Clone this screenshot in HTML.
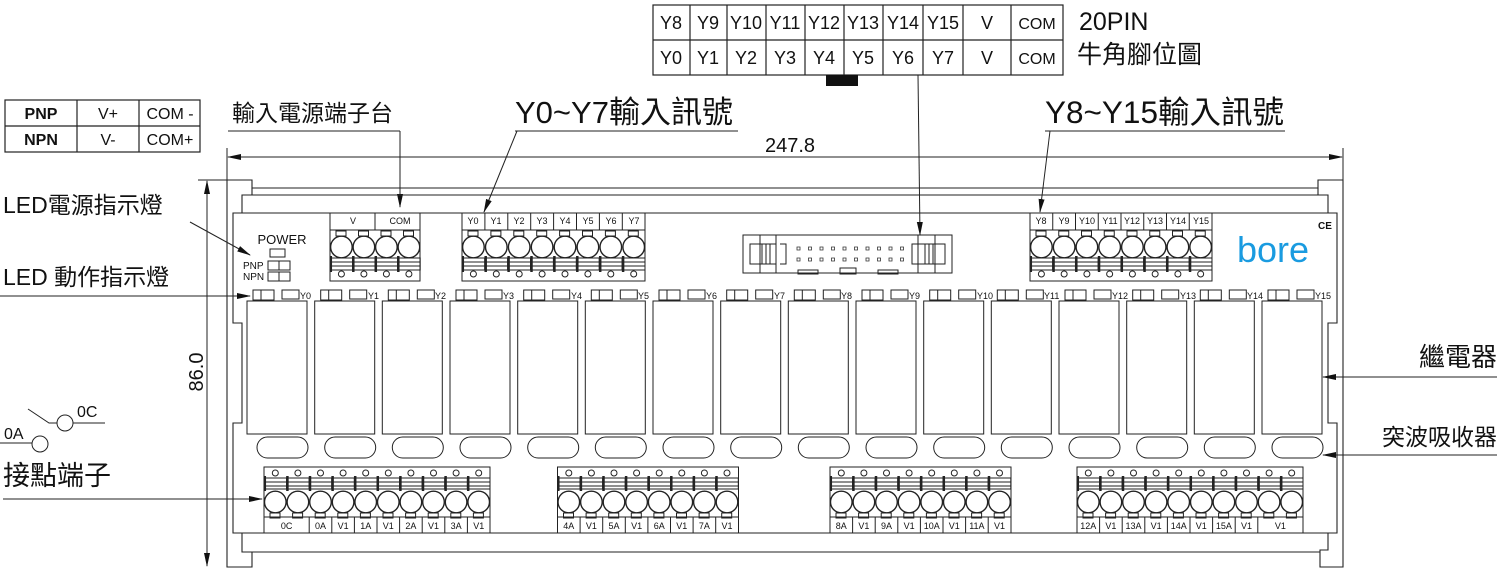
<!DOCTYPE html>
<html><head><meta charset="utf-8"><style>
html,body{margin:0;padding:0;background:#fff;}
svg{display:block;font-family:"Liberation Sans","Noto Sans CJK TC",sans-serif;}
</style></head><body>
<svg width="1500" height="569" viewBox="0 0 1500 569" xmlns="http://www.w3.org/2000/svg">
<defs>
<marker id="ar" markerWidth="14" markerHeight="8" refX="13" refY="4" orient="auto" markerUnits="userSpaceOnUse"><path d="M0,1 L14,4 L0,7 Z" fill="#111"/></marker>
<g id="ch" fill="none" stroke="#222" stroke-width="1">
<rect x="6" y="290" width="21" height="10"/><line x1="14" y1="290" x2="14" y2="300"/>
<rect x="35" y="290" width="17" height="9"/>
<rect x="0" y="301" width="60" height="133"/>
<rect x="10" y="437" width="51" height="21" rx="10.5"/>
</g>
<g id="tq" fill="none" stroke="#222" stroke-width="1">
<rect x="6" y="231" width="10" height="5"/>
<circle cx="11.4" cy="247" r="10.8" stroke-width="1.4"/>
<rect x="0" y="258" width="22.7" height="12"/><line x1="0" y1="262" x2="22.7" y2="262"/><line x1="0" y1="266" x2="22.7" y2="266"/>
<line x1="0.8" y1="256" x2="0.8" y2="272" stroke-width="2.5"/>
<circle cx="11.4" cy="274" r="3"/>
</g>
<g id="tp"><use href="#tq"/><line x1="0" y1="213" x2="0" y2="230" stroke="#222"/></g>
<g id="bp" fill="none" stroke="#222" stroke-width="1">
<circle cx="11.3" cy="473" r="3"/>
<rect x="0" y="478" width="22.6" height="11"/><line x1="0" y1="482" x2="22.6" y2="482"/><line x1="0" y1="486" x2="22.6" y2="486"/>
<line x1="0.8" y1="476" x2="0.8" y2="491" stroke-width="2.5"/>
<circle cx="11.3" cy="502" r="10.8" stroke-width="1.4"/>
<rect x="6" y="513" width="10" height="5"/>
</g>
</defs>

<!-- pin table -->
<g fill="none" stroke="#222" stroke-width="1.2">
<rect x="653" y="5" width="410" height="70"/>
<line x1="653" y1="40" x2="1063" y2="40"/>
<path d="M690,5V75M727,5V75M766,5V75M805,5V75M844,5V75M883,5V75M923,5V75M963,5V75M1011,5V75"/>
</g>
<rect x="826" y="75" width="32" height="11" fill="#111"/>
<g font-size="18" text-anchor="middle" fill="#111">
<text x="671" y="29">Y8</text><text x="708" y="29">Y9</text><text x="746" y="29">Y10</text><text x="785" y="29">Y11</text><text x="824" y="29">Y12</text><text x="863" y="29">Y13</text><text x="903" y="29">Y14</text><text x="943" y="29">Y15</text><text x="987" y="29">V</text><text x="1037" y="29" font-size="16">COM</text>
<text x="671" y="64">Y0</text><text x="708" y="64">Y1</text><text x="746" y="64">Y2</text><text x="785" y="64">Y3</text><text x="824" y="64">Y4</text><text x="863" y="64">Y5</text><text x="903" y="64">Y6</text><text x="943" y="64">Y7</text><text x="987" y="64">V</text><text x="1037" y="64" font-size="16">COM</text>
</g>
<text x="1079" y="30" font-size="25" fill="#111">20PIN</text>
<text x="1077" y="63" font-size="25" fill="#111">牛角腳位圖</text>

<!-- PNP table -->
<g fill="none" stroke="#222" stroke-width="1.2">
<rect x="5" y="100" width="195" height="52"/><line x1="5" y1="126" x2="200" y2="126"/><line x1="77" y1="100" x2="77" y2="152"/><line x1="139" y1="100" x2="139" y2="152"/>
</g>
<g font-size="16" text-anchor="middle" fill="#111">
<text x="41" y="119" font-weight="bold">PNP</text><text x="41" y="145" font-weight="bold">NPN</text>
<text x="108" y="119">V+</text><text x="108" y="145">V-</text>
<text x="170" y="119">COM -</text><text x="170" y="145">COM+</text>
</g>

<!-- top labels -->
<text x="232" y="121" font-size="23" fill="#111">輸入電源端子台</text>
<text x="515" y="123" font-size="31" fill="#111">Y0~Y7輸入訊號</text>
<text x="1045" y="123" font-size="31.5" fill="#111">Y8~Y15輸入訊號</text>
<g stroke="#222" stroke-width="1" fill="none">
<line x1="228" y1="131" x2="400" y2="131"/>
<line x1="400" y1="131" x2="400" y2="207" marker-end="url(#ar)"/>
<line x1="515" y1="131" x2="738" y2="131"/>
<line x1="517" y1="131" x2="484" y2="212" marker-end="url(#ar)"/>
<line x1="1045" y1="131" x2="1285" y2="131"/>
<line x1="1050" y1="131" x2="1040" y2="212" marker-end="url(#ar)"/>
<line x1="918" y1="75" x2="920" y2="235" marker-end="url(#ar)"/>
</g>

<!-- dimensions -->
<g stroke="#222" stroke-width="1" fill="none">
<line x1="227" y1="148" x2="227" y2="180"/><line x1="1343" y1="148" x2="1343" y2="180"/>
<line x1="790" y1="157" x2="228" y2="157" marker-end="url(#ar)"/>
<line x1="790" y1="157" x2="1342" y2="157" marker-end="url(#ar)"/>
<line x1="198" y1="180" x2="227" y2="180"/>
<line x1="207" y1="372" x2="207" y2="181" marker-end="url(#ar)"/>
<line x1="207" y1="372" x2="207" y2="566" marker-end="url(#ar)"/>
</g>
<text x="790" y="152" font-size="20" text-anchor="middle" fill="#111">247.8</text>
<text transform="translate(203,372) rotate(-90)" font-size="20" text-anchor="middle" fill="#111">86.0</text>

<!-- housing -->
<g fill="none" stroke="#222" stroke-width="1.1">
<path d="M227,180H252V188H1318V180H1343V567H1320V550H1328V533"/>
<path d="M227,180V567H252V552H242V533"/>
<path d="M242,213V195H1328V213"/>
<path d="M252,188V195M1318,188V195"/>
<path d="M233,213H1337V323H1328V423H1337V533H233V423H242V323H233Z"/>
<line x1="252" y1="552" x2="1320" y2="552"/>
</g>

<!-- power block -->
<g fill="none" stroke="#222"><rect x="330" y="213" width="90" height="68"/><line x1="330" y1="230" x2="420" y2="230"/><line x1="375" y1="213" x2="375" y2="230"/></g>
<use href="#tq" x="330"/><use href="#tq" x="352.5"/><use href="#tq" x="375"/><use href="#tq" x="397.5"/>
<g font-size="9" text-anchor="middle" fill="#111"><text x="353" y="224">V</text><text x="400" y="224">COM</text></g>

<!-- Y0-Y7 block -->
<g fill="none" stroke="#222"><rect x="462" y="213" width="183" height="68"/><line x1="462" y1="230" x2="645" y2="230"/></g>
<use href="#tp" x="462"/><use href="#tp" x="484.9"/><use href="#tp" x="507.8"/><use href="#tp" x="530.7"/><use href="#tp" x="553.6"/><use href="#tp" x="576.5"/><use href="#tp" x="599.4"/><use href="#tp" x="622.3"/>
<g font-size="9" text-anchor="middle" fill="#111"><text x="473" y="224">Y0</text><text x="496" y="224">Y1</text><text x="519" y="224">Y2</text><text x="542" y="224">Y3</text><text x="565" y="224">Y4</text><text x="588" y="224">Y5</text><text x="611" y="224">Y6</text><text x="634" y="224">Y7</text></g>

<!-- Y8-Y15 block -->
<g fill="none" stroke="#222"><rect x="1030" y="213" width="182" height="68"/><line x1="1030" y1="230" x2="1212" y2="230"/></g>
<use href="#tp" x="1030"/><use href="#tp" x="1052.75"/><use href="#tp" x="1075.5"/><use href="#tp" x="1098.25"/><use href="#tp" x="1121"/><use href="#tp" x="1143.75"/><use href="#tp" x="1166.5"/><use href="#tp" x="1189.25"/>
<g font-size="9" text-anchor="middle" fill="#111"><text x="1041" y="224">Y8</text><text x="1064" y="224">Y9</text><text x="1087" y="224">Y10</text><text x="1110" y="224">Y11</text><text x="1132" y="224">Y12</text><text x="1155" y="224">Y13</text><text x="1178" y="224">Y14</text><text x="1201" y="224">Y15</text></g>

<!-- 20pin connector -->
<g fill="none" stroke="#222" stroke-width="1">
<rect x="743" y="235" width="209" height="38"/>
<path d="M760,235V273M776,235V273M918,235V273M935,235V273"/>
<path d="M750,244H776V264H750ZM780,244H786V264H780M918,244H912V264H918M918,244H945V264H918"/>
<path d="M762,244V264M766,244V264M770,244V264M925,244V264M929,244V264M933,244V264"/>
<rect x="798" y="270" width="20" height="4"/><rect x="840" y="268" width="16" height="6"/><rect x="878" y="270" width="20" height="4"/>
</g>
<g fill="none" stroke="#333" stroke-width="0.8">
<path d="M797,247h3v3h-3zM808.5,247h3v3h-3zM820,247h3v3h-3zM831.5,247h3v3h-3zM843,247h3v3h-3zM854.5,247h3v3h-3zM866,247h3v3h-3zM877.5,247h3v3h-3zM889,247h3v3h-3zM900.5,247h3v3h-3z"/>
<path d="M797,258h3v3h-3zM808.5,258h3v3h-3zM820,258h3v3h-3zM831.5,258h3v3h-3zM843,258h3v3h-3zM854.5,258h3v3h-3zM866,258h3v3h-3zM877.5,258h3v3h-3zM889,258h3v3h-3zM900.5,258h3v3h-3z"/>
</g>

<!-- logo -->
<text x="1273" y="262" font-size="36" text-anchor="middle" fill="#1a9be0">bore</text>
<text x="1325" y="229" font-size="10" font-weight="bold" text-anchor="middle" fill="#111">CE</text>

<!-- POWER -->
<text x="282" y="244" font-size="13" text-anchor="middle" fill="#111">POWER</text>
<g fill="none" stroke="#222"><rect x="270" y="249" width="15" height="8"/><rect x="268" y="261" width="22" height="9"/><line x1="279" y1="261" x2="279" y2="270"/><rect x="268" y="272" width="22" height="9"/><line x1="279" y1="272" x2="279" y2="281"/></g>
<g font-size="10" fill="#111"><text x="243" y="269">PNP</text><text x="243" y="280">NPN</text></g>

<!-- relay channels -->
<use href="#ch" x="247"/><use href="#ch" x="314.7"/><use href="#ch" x="382.3"/><use href="#ch" x="450"/><use href="#ch" x="517.7"/><use href="#ch" x="585.3"/><use href="#ch" x="653"/><use href="#ch" x="720.7"/><use href="#ch" x="788.3"/><use href="#ch" x="856"/><use href="#ch" x="923.7"/><use href="#ch" x="991.3"/><use href="#ch" x="1059"/><use href="#ch" x="1126.7"/><use href="#ch" x="1194.3"/><use href="#ch" x="1262"/>
<g font-size="9" fill="#111">
<text x="300" y="299">Y0</text><text x="368" y="299">Y1</text><text x="435" y="299">Y2</text><text x="503" y="299">Y3</text><text x="571" y="299">Y4</text><text x="638" y="299">Y5</text><text x="706" y="299">Y6</text><text x="774" y="299">Y7</text><text x="841" y="299">Y8</text><text x="909" y="299">Y9</text><text x="977" y="299">Y10</text><text x="1044" y="299">Y11</text><text x="1112" y="299">Y12</text><text x="1180" y="299">Y13</text><text x="1247" y="299">Y14</text><text x="1315" y="299">Y15</text>
</g>

<!-- bottom blocks -->
<g fill="none" stroke="#222">
<rect x="264" y="467" width="226" height="66"/><line x1="264" y1="517" x2="490" y2="517"/>
<path d="M309.2,517V533M331.8,517V533M354.4,517V533M377,517V533M399.6,517V533M422.2,517V533M444.8,517V533M467.4,517V533"/>
<rect x="557.5" y="467" width="181" height="66"/><line x1="557.5" y1="517" x2="738.5" y2="517"/>
<path d="M580.1,517V533M602.7,517V533M625.3,517V533M647.9,517V533M670.5,517V533M693.1,517V533M715.7,517V533"/>
<rect x="830" y="467" width="181" height="66"/><line x1="830" y1="517" x2="1011" y2="517"/>
<path d="M852.6,517V533M875.2,517V533M897.8,517V533M920.4,517V533M943,517V533M965.6,517V533M988.2,517V533"/>
<rect x="1077" y="467" width="226" height="66"/><line x1="1077" y1="517" x2="1303" y2="517"/>
<path d="M1099.6,517V533M1122.2,517V533M1144.8,517V533M1167.4,517V533M1190,517V533M1212.6,517V533M1235.2,517V533M1257.8,517V533"/>
</g>
<use href="#bp" x="264"/><use href="#bp" x="286.6"/><use href="#bp" x="309.2"/><use href="#bp" x="331.8"/><use href="#bp" x="354.4"/><use href="#bp" x="377"/><use href="#bp" x="399.6"/><use href="#bp" x="422.2"/><use href="#bp" x="444.8"/><use href="#bp" x="467.4"/>
<use href="#bp" x="557.5"/><use href="#bp" x="580.1"/><use href="#bp" x="602.7"/><use href="#bp" x="625.3"/><use href="#bp" x="647.9"/><use href="#bp" x="670.5"/><use href="#bp" x="693.1"/><use href="#bp" x="715.7"/>
<use href="#bp" x="830"/><use href="#bp" x="852.6"/><use href="#bp" x="875.2"/><use href="#bp" x="897.8"/><use href="#bp" x="920.4"/><use href="#bp" x="943"/><use href="#bp" x="965.6"/><use href="#bp" x="988.2"/>
<use href="#bp" x="1077"/><use href="#bp" x="1099.6"/><use href="#bp" x="1122.2"/><use href="#bp" x="1144.8"/><use href="#bp" x="1167.4"/><use href="#bp" x="1190"/><use href="#bp" x="1212.6"/><use href="#bp" x="1235.2"/><use href="#bp" x="1257.8"/><use href="#bp" x="1280.4"/>
<g font-size="9" text-anchor="middle" fill="#111">
<text x="286.6" y="529">0C</text><text x="320.5" y="529">0A</text><text x="343.1" y="529">V1</text><text x="365.7" y="529">1A</text><text x="388.3" y="529">V1</text><text x="410.9" y="529">2A</text><text x="433.5" y="529">V1</text><text x="456.1" y="529">3A</text><text x="478.7" y="529">V1</text>
<text x="568.8" y="529">4A</text><text x="591.4" y="529">V1</text><text x="614" y="529">5A</text><text x="636.6" y="529">V1</text><text x="659.2" y="529">6A</text><text x="681.8" y="529">V1</text><text x="704.4" y="529">7A</text><text x="727" y="529">V1</text>
<text x="841.3" y="529">8A</text><text x="863.9" y="529">V1</text><text x="886.5" y="529">9A</text><text x="909.1" y="529">V1</text><text x="931.7" y="529">10A</text><text x="954.3" y="529">V1</text><text x="976.9" y="529">11A</text><text x="999.5" y="529">V1</text>
<text x="1088.3" y="529">12A</text><text x="1110.9" y="529">V1</text><text x="1133.5" y="529">13A</text><text x="1156.1" y="529">V1</text><text x="1178.7" y="529">14A</text><text x="1201.3" y="529">V1</text><text x="1223.9" y="529">15A</text><text x="1246.5" y="529">V1</text><text x="1280.4" y="529">V1</text>
</g>

<!-- left labels -->
<text x="3" y="213" font-size="23" fill="#111">LED電源指示燈</text>
<text x="3" y="285" font-size="23" fill="#111">LED 動作指示燈</text>
<text x="3" y="485" font-size="27" fill="#111">接點端子</text>
<g stroke="#222" stroke-width="1" fill="none">
<line x1="190" y1="222" x2="250" y2="255" marker-end="url(#ar)"/>
<line x1="0" y1="296" x2="250" y2="296" marker-end="url(#ar)"/>
<line x1="3" y1="499" x2="262" y2="499" marker-end="url(#ar)"/>
<line x1="0" y1="443" x2="32" y2="443"/><circle cx="40" cy="444" r="8"/>
<path d="M28,409L49,423H57"/><circle cx="65" cy="423" r="8"/><line x1="73" y1="423" x2="105" y2="423"/>
</g>
<text x="4" y="439" font-size="16" fill="#111">0A</text>
<text x="77" y="417" font-size="16" fill="#111">0C</text>

<!-- right labels -->
<text x="1497" y="366" font-size="26" text-anchor="end" fill="#111">繼電器</text>
<text x="1497" y="445" font-size="23" text-anchor="end" fill="#111">突波吸收器</text>
<g stroke="#222" stroke-width="1">
<line x1="1497" y1="377" x2="1323" y2="377" marker-end="url(#ar)"/>
<line x1="1497" y1="455" x2="1323" y2="455" marker-end="url(#ar)"/>
</g>
</svg>
</body></html>
